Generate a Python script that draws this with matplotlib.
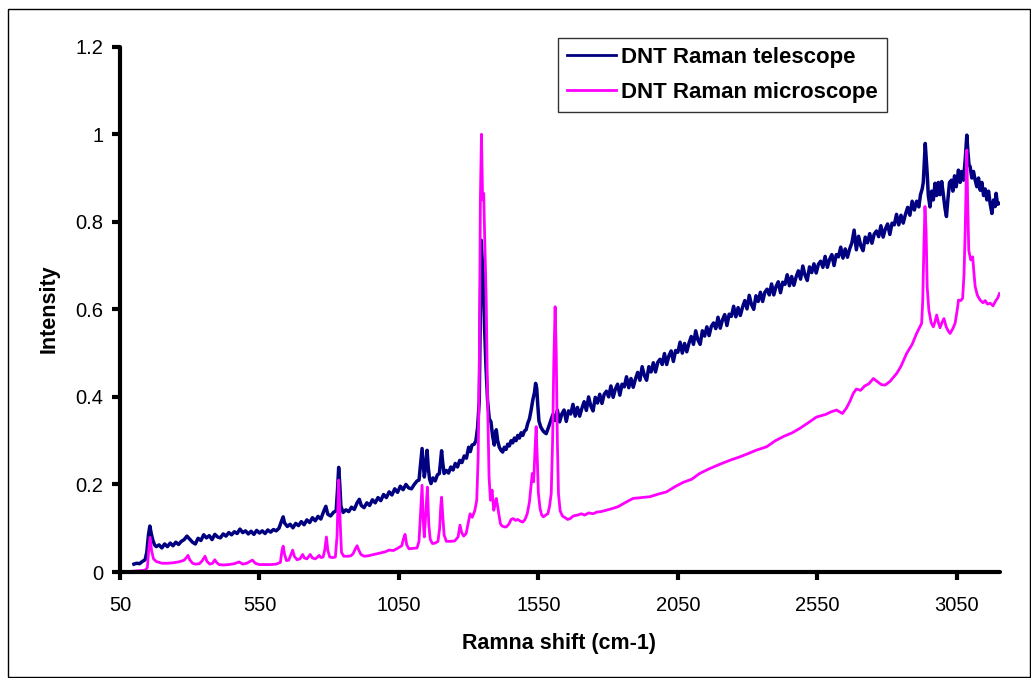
import matplotlib
matplotlib.use("Agg")
import matplotlib.pyplot as plt
from matplotlib.patches import Rectangle
from matplotlib.ticker import FuncFormatter

# Raman spectra
tele_x = [100, 110, 120, 130, 140, 146, 152, 157, 162, 168, 174, 180,
          190, 200, 210, 220, 230, 240, 250, 260, 270, 280, 290, 300, 310, 320, 330, 340,
          350, 360, 370, 380, 390, 400, 410, 420, 430, 440, 450, 460, 470, 480, 490, 500,
          510, 520, 530, 540, 550, 560, 570, 580, 590, 600, 610, 620, 630, 635, 640, 650,
          660, 670, 680, 690, 700, 710, 720, 730, 740, 750, 760, 770, 780, 788, 795, 805,
          815, 825, 830, 834, 838, 842, 850, 860, 870, 880, 890, 900, 908, 915, 925, 935,
          945, 955, 965, 975, 985, 995, 1005, 1015, 1025, 1035, 1045, 1055, 1065, 1075,
          1085, 1095, 1105, 1115, 1122, 1128, 1133, 1137, 1141, 1146, 1151, 1155, 1160,
          1165, 1172, 1180, 1188, 1195, 1199, 1203, 1207, 1212, 1220, 1228, 1236, 1244,
          1252, 1260, 1268, 1276, 1284, 1292, 1300, 1306, 1312, 1320, 1326, 1332, 1338,
          1342, 1345, 1348, 1352, 1357, 1362, 1368, 1374, 1380, 1386, 1392, 1396, 1399,
          1404, 1410, 1416, 1422, 1428, 1434, 1440, 1446, 1452, 1458, 1464, 1470, 1476,
          1482, 1488, 1494, 1500, 1506, 1512, 1518, 1524, 1530, 1536, 1540, 1544, 1548,
          1552, 1558, 1564, 1570, 1578, 1586, 1594,
          1602, 1610, 1618, 1626, 1634, 1642, 1650, 1658, 1666, 1674, 1682, 1690, 1698,
          1706, 1714, 1722, 1730, 1738, 1746, 1754, 1762, 1770, 1778, 1786, 1794, 1802,
          1810, 1818, 1826, 1834, 1842, 1850, 1858, 1866, 1874, 1882, 1890, 1898, 1906,
          1914, 1922, 1930, 1938, 1946, 1954, 1962, 1970, 1978, 1986, 1994, 2002, 2010,
          2018, 2026, 2034, 2042, 2050, 2058, 2066, 2074, 2082, 2090, 2098, 2106, 2114,
          2122, 2130, 2138, 2146, 2154, 2162, 2170, 2178, 2186, 2194, 2202, 2210, 2218,
          2226, 2234, 2242, 2250, 2258, 2266, 2274, 2282, 2290, 2298, 2306, 2314, 2322,
          2330, 2338, 2346, 2354, 2362, 2370, 2378, 2386, 2394, 2402, 2410, 2418, 2426,
          2434, 2442, 2450, 2458, 2466, 2474, 2482, 2490, 2498, 2506, 2514, 2522, 2530,
          2538, 2546, 2554, 2562, 2570, 2578, 2586, 2594, 2602, 2610, 2618, 2626, 2634,
          2642, 2650, 2658, 2666, 2674, 2682, 2690, 2698, 2706, 2714, 2722, 2730, 2738,
          2746, 2754, 2762, 2770, 2778, 2786, 2794, 2802, 2810, 2818, 2826, 2834, 2842,
          2850, 2858, 2866, 2874, 2882, 2890, 2898, 2906, 2914, 2920, 2926, 2930, 2934,
          2937, 2940, 2944, 2948, 2954, 2960, 2966, 2972, 2978, 2984, 2990, 2996, 3002,
          3008, 3013, 3018, 3024, 3031, 3036, 3042, 3048, 3056, 3062, 3068, 3074, 3080,
          3086, 3090, 3094, 3098, 3104, 3110, 3116, 3122, 3128, 3134, 3140, 3146, 3152,
          3158, 3164, 3170, 3176, 3182, 3188, 3191, 3196, 3203]
tele_y = [0.018, 0.02, 0.019, 0.024, 0.028, 0.045, 0.085, 0.105, 0.088, 0.072, 0.062, 0.058,
          0.062, 0.055, 0.064, 0.058, 0.066, 0.06, 0.068, 0.063, 0.07, 0.074, 0.082, 0.075,
          0.068, 0.064, 0.077, 0.072, 0.085, 0.078, 0.083, 0.074, 0.086, 0.08, 0.078, 0.087,
          0.082, 0.09, 0.085, 0.092, 0.088, 0.098, 0.09, 0.094, 0.087, 0.093, 0.086, 0.095,
          0.089, 0.094, 0.088, 0.096, 0.091, 0.097, 0.094, 0.1, 0.118, 0.126, 0.112, 0.104,
          0.109, 0.101, 0.111, 0.106, 0.115, 0.108, 0.119, 0.113, 0.124, 0.117, 0.127, 0.121,
          0.138, 0.15, 0.132, 0.128, 0.136, 0.14, 0.19, 0.239, 0.2, 0.15, 0.136, 0.142,
          0.138, 0.148, 0.143, 0.158, 0.166, 0.152, 0.147, 0.158, 0.152, 0.165, 0.158, 0.17,
          0.163, 0.177, 0.17, 0.183, 0.176, 0.19, 0.182, 0.196, 0.188, 0.2, 0.192, 0.19,
          0.2, 0.208, 0.21, 0.25, 0.282, 0.25, 0.217, 0.24, 0.278, 0.24, 0.212, 0.202,
          0.215, 0.208, 0.222, 0.225, 0.25, 0.277, 0.25, 0.225, 0.232, 0.226, 0.24, 0.233,
          0.248, 0.24, 0.255, 0.25, 0.265, 0.26, 0.285, 0.275, 0.29, 0.292, 0.3, 0.33,
          0.39, 0.6, 0.758, 0.72, 0.68, 0.56, 0.47, 0.39, 0.35, 0.343, 0.31, 0.29, 0.315,
          0.325, 0.3, 0.285, 0.278, 0.274, 0.285, 0.28, 0.292, 0.288, 0.3, 0.295, 0.306,
          0.3, 0.312, 0.306, 0.318, 0.312, 0.322, 0.325, 0.34, 0.35, 0.37, 0.393, 0.41,
          0.431, 0.42, 0.38, 0.345, 0.332, 0.325, 0.32, 0.316, 0.33, 0.345,
          0.360, 0.346, 0.370, 0.343, 0.361, 0.370, 0.344, 0.368, 0.361, 0.383, 0.356, 0.376,
          0.356, 0.374, 0.389, 0.369, 0.400, 0.379, 0.368, 0.399, 0.386, 0.406, 0.385, 0.406,
          0.413, 0.400, 0.425, 0.399, 0.418, 0.429, 0.404, 0.429, 0.423, 0.446, 0.421, 0.442,
          0.422, 0.441, 0.456, 0.438, 0.469, 0.449, 0.438, 0.469, 0.457, 0.478, 0.457, 0.479,
          0.486, 0.474, 0.499, 0.474, 0.494, 0.505, 0.481, 0.506, 0.502, 0.525, 0.500, 0.522,
          0.503, 0.523, 0.538, 0.520, 0.551, 0.530, 0.520, 0.551, 0.539, 0.560, 0.540, 0.561,
          0.569, 0.556, 0.582, 0.557, 0.576, 0.588, 0.563, 0.589, 0.584, 0.607, 0.583, 0.604,
          0.586, 0.605, 0.620, 0.601, 0.632, 0.611, 0.600, 0.631, 0.618, 0.639, 0.618, 0.639,
          0.646, 0.633, 0.658, 0.633, 0.652, 0.663, 0.638, 0.662, 0.657, 0.679, 0.654, 0.675,
          0.655, 0.674, 0.688, 0.669, 0.699, 0.678, 0.666, 0.697, 0.684, 0.704, 0.683, 0.703,
          0.710, 0.696, 0.721, 0.696, 0.714, 0.725, 0.700, 0.725, 0.720, 0.742, 0.717, 0.738,
          0.719, 0.738, 0.752, 0.781, 0.736, 0.767, 0.745, 0.734, 0.765, 0.752, 0.773, 0.751,
          0.772, 0.779, 0.766, 0.791, 0.765, 0.784, 0.795, 0.771, 0.797, 0.793, 0.817, 0.793,
          0.815, 0.797, 0.817, 0.833, 0.815, 0.847, 0.827, 0.847, 0.834, 0.862, 0.875, 0.89,
          0.94, 0.979, 0.95, 0.91, 0.86, 0.834, 0.87, 0.85, 0.888, 0.86, 0.89, 0.862, 0.892,
          0.86, 0.83, 0.812, 0.85, 0.89, 0.895, 0.87, 0.905, 0.88, 0.918, 0.89, 0.915, 0.895,
          0.94, 0.998, 0.96, 0.93, 0.926, 0.9, 0.915, 0.895, 0.88, 0.9, 0.872, 0.89, 0.86,
          0.875, 0.85, 0.87, 0.84, 0.819, 0.85, 0.835, 0.865, 0.84, 0.842]

micro_x = [100, 120, 140, 148, 153, 158, 163, 170, 180, 200, 220, 240, 260, 280, 288, 294,
           300, 310, 320, 335, 345, 355, 362, 372, 382, 390, 396, 405, 420, 440, 460, 477,
           490, 505, 518, 525, 535, 549, 570, 590, 610, 625, 631, 635, 640, 647, 655, 663,
           669, 675, 685, 695, 705, 711, 720, 732, 740, 750, 758, 764, 770, 778, 784, 790,
           795, 802, 812, 822, 828, 834, 839, 844, 852, 865, 878, 886, 893, 900, 906, 914,
           925, 940, 960, 980, 1000, 1015, 1030, 1045, 1060, 1066, 1072, 1078, 1086, 1100,
           1115, 1122, 1128, 1133, 1137, 1141, 1146, 1152, 1157, 1162, 1170, 1180, 1190,
           1196, 1200, 1203, 1207, 1212, 1220, 1235, 1250, 1262, 1269, 1275, 1282, 1291,
           1298, 1305, 1313, 1322, 1329, 1334, 1338, 1342, 1346, 1350, 1354, 1358, 1363,
           1368, 1373, 1378, 1384, 1390, 1395, 1399, 1404, 1408, 1414, 1420, 1428, 1435,
           1445, 1452, 1460, 1468, 1476, 1486, 1494, 1502, 1510, 1518, 1524, 1528, 1533,
           1538, 1542, 1546, 1550, 1556, 1562, 1568, 1576, 1584, 1590, 1596, 1601, 1605,
           1610, 1614, 1618, 1622, 1628, 1636, 1646, 1655, 1664, 1675, 1690, 1704, 1716,
           1730, 1746, 1760, 1775, 1793, 1810, 1835, 1860, 1889, 1920, 1950, 1980, 2009,
           2040, 2070, 2100, 2128, 2160, 2200, 2240, 2272, 2300, 2330, 2368, 2400, 2430,
           2460, 2487, 2520, 2547, 2580, 2600, 2619, 2640, 2655, 2667, 2679, 2690, 2705,
           2720, 2735, 2751, 2765, 2780, 2793, 2810, 2835, 2850, 2870, 2890, 2906, 2918,
           2924, 2928, 2932, 2936, 2940, 2944, 2950, 2958, 2966, 2972, 2978, 2984, 2990,
           2997, 3004, 3012, 3020, 3026, 3036, 3044, 3052, 3056, 3064, 3071, 3076, 3080,
           3084, 3086, 3089, 3093, 3100, 3107, 3112, 3116, 3124, 3134, 3144, 3152, 3160,
           3170, 3180, 3190, 3196, 3203]
micro_y = [0.002, 0.003, 0.004, 0.01, 0.05, 0.079, 0.05, 0.03, 0.024, 0.02, 0.02, 0.021,
           0.023, 0.027, 0.033, 0.038, 0.028, 0.02, 0.018, 0.019, 0.026, 0.036, 0.024, 0.018,
           0.02, 0.028, 0.022, 0.017, 0.016, 0.017, 0.019, 0.023, 0.018, 0.02, 0.025, 0.027,
           0.02, 0.017, 0.017, 0.017, 0.018, 0.022, 0.05, 0.059, 0.04, 0.026, 0.027, 0.04,
           0.05, 0.036, 0.028, 0.03, 0.04, 0.032, 0.03, 0.04, 0.032, 0.03, 0.034, 0.038,
           0.033, 0.034, 0.05, 0.08, 0.05, 0.034, 0.033, 0.034, 0.08, 0.21, 0.12, 0.045,
           0.036, 0.036, 0.037, 0.042, 0.052, 0.06, 0.05, 0.04, 0.036, 0.037, 0.04, 0.043,
           0.046, 0.05, 0.049, 0.054, 0.06, 0.075, 0.086, 0.062, 0.053, 0.054, 0.055, 0.07,
           0.14, 0.198, 0.12, 0.08, 0.13, 0.194, 0.11, 0.075, 0.065, 0.066, 0.07, 0.1,
           0.15, 0.171, 0.13, 0.085, 0.07, 0.07, 0.071, 0.08, 0.107, 0.09, 0.082, 0.088,
           0.11, 0.133, 0.125, 0.14, 0.164, 0.26, 0.45, 0.85, 1.0, 0.85, 0.865, 0.75,
           0.62, 0.39, 0.22, 0.164, 0.187, 0.141, 0.155, 0.168, 0.15, 0.133, 0.11, 0.105,
           0.103, 0.103, 0.11, 0.12, 0.122, 0.118, 0.12, 0.116, 0.114, 0.12, 0.133, 0.16,
           0.2, 0.225, 0.206, 0.28, 0.332, 0.26, 0.18, 0.145, 0.13, 0.126, 0.13, 0.133,
           0.15, 0.179, 0.3, 0.469, 0.606, 0.5, 0.3, 0.179, 0.14, 0.128, 0.124, 0.12,
           0.122, 0.128, 0.13, 0.133, 0.13, 0.135, 0.133, 0.137, 0.138, 0.141, 0.144, 0.149,
           0.158, 0.168, 0.17, 0.172, 0.178, 0.183, 0.195, 0.205, 0.212, 0.225, 0.235, 0.246,
           0.256, 0.263, 0.27, 0.278, 0.286, 0.3, 0.31, 0.318, 0.328, 0.342, 0.354, 0.36,
           0.366, 0.37, 0.362, 0.375, 0.39, 0.408, 0.418, 0.415, 0.425, 0.43, 0.442, 0.435,
           0.428, 0.427, 0.435, 0.454, 0.47, 0.499, 0.52, 0.545, 0.56, 0.568, 0.62, 0.74,
           0.835, 0.78, 0.65, 0.598, 0.57, 0.56, 0.572, 0.587, 0.57, 0.558, 0.57, 0.579,
           0.56, 0.55, 0.545, 0.556, 0.568, 0.6, 0.621, 0.62, 0.625, 0.68, 0.774, 0.9,
           0.964, 0.85, 0.735, 0.713, 0.72, 0.68, 0.652, 0.632, 0.621, 0.615, 0.62, 0.612,
           0.614, 0.608, 0.62, 0.625, 0.636]

x_ticks = [50, 550, 1050, 1550, 2050, 2550, 3050]
y_ticks = [0, 0.2, 0.4, 0.6, 0.8, 1.0, 1.2]

plt.rcParams["font.family"] = ["Liberation Sans", "DejaVu Sans"]

W, H = 1031, 678
fig = plt.figure(figsize=(W / 100, H / 100), dpi=100)
ax = fig.add_axes([120 / W, 1 - 572 / H, (1000 - 120) / W, (572 - 46.7) / H])

ax.plot(tele_x, tele_y, color="#000080", lw=2.5, label="DNT Raman telescope")
ax.plot(micro_x, micro_y, color="#FF00FF", lw=2.0, label="DNT Raman microscope")

ax.set_xlim(50, 3205)
ax.set_ylim(0, 1.2)
ax.set_xticks(x_ticks)
ax.set_yticks(y_ticks)
ax.yaxis.set_major_formatter(FuncFormatter(lambda v, p: "%g" % v))

for s in ["top", "right"]:
    ax.spines[s].set_visible(False)
for s in ["left", "bottom"]:
    ax.spines[s].set_linewidth(3.0)
    ax.spines[s].set_capstyle("round")
ax.tick_params(direction="out", length=6, width=3, labelsize=14.5)
ax.tick_params(axis="x", pad=11)
ax.tick_params(axis="y", pad=6)

fig.text(559 / W, 1 - 643 / H, "Ramna shift (cm-1)", ha="center", va="center",
         fontsize=15.5, fontweight="bold")
fig.text(49 / W, 1 - 309 / H, "Intensity", ha="center", va="center", rotation=90,
         fontsize=15.5, fontweight="bold")

leg = fig.legend(loc="upper left", bbox_to_anchor=(558 / W, 1 - 38 / H),
                 prop={"weight": "bold", "size": 16}, fancybox=False,
                 handlelength=2.2, handletextpad=0.25, borderpad=0.4,
                 labelspacing=0.62, borderaxespad=0)
leg.get_frame().set_edgecolor("black")
leg.get_frame().set_linewidth(1.0)
for line in leg.get_lines():
    line.set_linewidth(2.0)

# chart-area border
fig.patches.append(Rectangle((8 / W, 1 - 677 / H), 1022 / W, 668 / H, fill=False,
                             edgecolor="black", lw=1.0, transform=fig.transFigure))

fig.savefig("out.png", dpi=100)
